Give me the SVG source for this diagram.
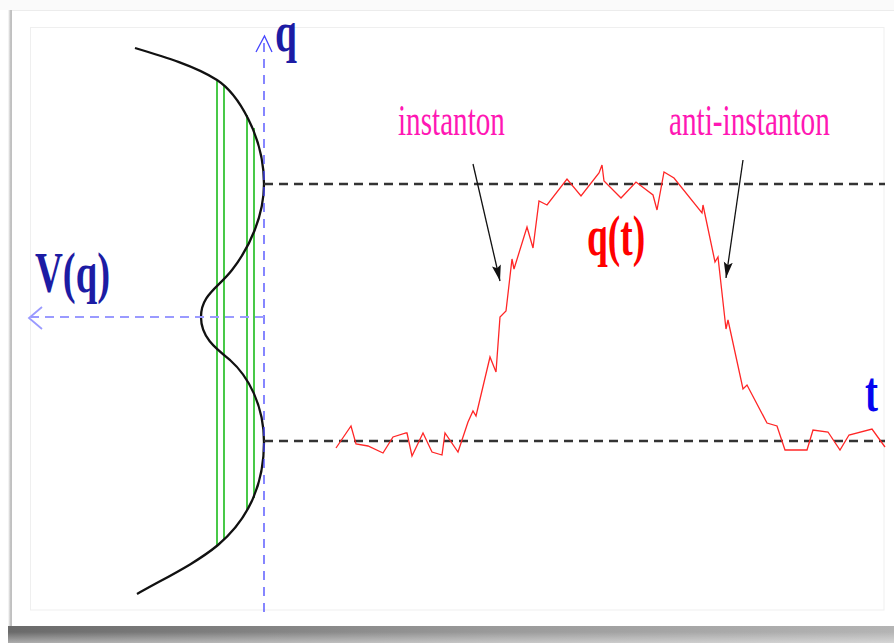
<svg xmlns="http://www.w3.org/2000/svg" width="894" height="643" viewBox="0 0 894 643">
  <defs>
    <linearGradient id="shadowH" x1="0" y1="0" x2="1" y2="0">
      <stop offset="0" stop-color="#6a6a6a"/>
      <stop offset="0.55" stop-color="#9a9a9a"/>
      <stop offset="1" stop-color="#b4b4b4"/>
    </linearGradient>
    <linearGradient id="shadowV" x1="0" y1="0" x2="0" y2="1">
      <stop offset="0" stop-color="#ffffff" stop-opacity="0"/>
      <stop offset="0.35" stop-color="#ffffff" stop-opacity="0"/>
      <stop offset="1" stop-color="#ffffff" stop-opacity="0.45"/>
    </linearGradient>
    <linearGradient id="shadowL" x1="0" y1="0" x2="1" y2="0">
      <stop offset="0" stop-color="#ffffff"/>
      <stop offset="0.6" stop-color="#b8b8b8"/>
      <stop offset="1" stop-color="#d8d8d8"/>
    </linearGradient>
    <marker id="arrowBlack" markerUnits="userSpaceOnUse" markerWidth="18" markerHeight="10" refX="16" refY="4.5" orient="auto">
      <path d="M0,0 L16,4.5 L0,9 L3,4.5 Z" fill="#111"/>
    </marker>
  </defs>
  <style>
    .dash-black { fill: none; stroke: #333; stroke-width: 2.6; stroke-dasharray: 9 6; }
    .axis-v { fill: none; stroke: #4545ff; stroke-width: 1.3; stroke-dasharray: 9 7; }
    .axis-h { fill: none; stroke: #9a9aff; stroke-width: 2; stroke-dasharray: 9 6; }
    .chev-v { fill: none; stroke: #4545ff; stroke-width: 1.3; }
    .chev-h { fill: none; stroke: #9a9aff; stroke-width: 1.8; }
    .green { stroke: #27c027; stroke-width: 1.7; }
    .bold { font-family: "Liberation Serif", "Times New Roman", serif; font-weight: bold; font-size: 58px; }
    .mag { font-family: "Liberation Serif", "Times New Roman", serif; font-size: 44px; fill: #ff17b4; }
    .arrow { fill: none; stroke: #111; stroke-width: 1.3; marker-end: url(#arrowBlack); }
  </style>

  <!-- frame -->
  <g id="frame">
    <rect x="0" y="0" width="894" height="643" fill="#ffffff"/>
    <rect x="0" y="0" width="894" height="10" fill="#fafafa"/>
    <rect x="8" y="10" width="5" height="616" fill="url(#shadowL)"/>
    <rect x="12" y="10" width="882" height="616" fill="#ffffff"/>
    <line x1="12" y1="10.5" x2="894" y2="10.5" stroke="#ececec" stroke-width="1"/>
    <rect x="8" y="626" width="886" height="17" fill="url(#shadowH)"/>
    <rect x="8" y="626" width="886" height="17" fill="url(#shadowV)"/>
    <rect x="30.5" y="27.5" width="853.5" height="582.5" fill="none" stroke="#efefef" stroke-width="1"/>
  </g>

  <!-- potential well -->
  <g id="potential">
    <g id="green-lines">
      <line class="green" x1="217" y1="81" x2="217" y2="546"/>
      <line class="green" x1="224" y1="85" x2="224" y2="540"/>
      <line class="green" x1="247" y1="115" x2="247" y2="510"/>
      <line class="green" x1="254" y1="128" x2="254" y2="498"/>
    </g>
    <path id="V-curve" d="M135,48 C165,57 195,66 217,80 C237,93 264,135 264,184 C264,215 250,247 232,270 C218,288 201,295 201,317 C201,337 215,348 230,360 C248,376 264,405 264,442 C264,490 245,522 218,545 C195,564 165,578 137,594" fill="none" stroke="#111" stroke-width="2.3"/>
  </g>

  <!-- reference levels -->
  <g id="levels">
    <line class="dash-black" x1="264" y1="184" x2="885" y2="184"/>
    <line class="dash-black" x1="264" y1="441" x2="885" y2="441"/>
  </g>

  <!-- axes -->
  <g id="q-axis">
    <line class="axis-v" x1="264" y1="612" x2="264" y2="37"/>
    <polyline class="chev-v" points="256,52 264.5,36 272,52"/>
    <text class="bold" transform="translate(275,51) scale(0.68,1)" fill="#1c1ca4">q</text>
  </g>
  <g id="V-axis">
    <line class="axis-h" x1="264" y1="317" x2="31" y2="317"/>
    <polyline class="chev-h" points="42,307 29,318 42,329"/>
    <text class="bold" transform="translate(35,292) scale(0.665,1)" fill="#1c1ca4">V(q)</text>
  </g>
  <g id="t-label">
    <text class="bold" transform="translate(865,411) scale(0.67,1)" fill="#0505f0">t</text>
  </g>

  <!-- trajectory -->
  <g id="trajectory">
    <path d="M336,448 L351,426 L356,444 L368,446 L383,453 L393,437 L406,433 L407,433 L412,456 L423,433 L432,452 L442,455 L445,433 L458,452 L468,422 L473,411 L476,416 L490,357 L496,372 L500,317 L506,311 L512,259 L514,269 L527,227 L533,248 L539,201 L547,205 L567,179 L581,196 L599,173 L602,165 L604,181 L621,198 L636,182 L653,195 L657,210 L664,172 L674,178 L702,213 L703,205 L715,262 L718,257 L726,329 L728,320 L743,389 L747,385 L767,423 L777,426 L785,450 L807,450 L813,430 L828,432 L840,450 L849,435 L872,429 L885,447" fill="none" stroke="#ff2626" stroke-width="1.3" stroke-linejoin="miter"/>
    <text class="bold" transform="translate(587,255) scale(0.645,1)" fill="#ff0000">q(t)</text>
  </g>

  <g id="instanton-label">
    <text class="mag" transform="translate(398,135) scale(0.663,1)">instanton</text>
  </g>
  <g id="anti-instanton-label">
    <text class="mag" transform="translate(669,135) scale(0.665,1)">anti-instanton</text>
  </g>

  <g id="connectors">
    <line class="arrow" x1="473" y1="164" x2="500" y2="281"/>
    <line class="arrow" x1="743" y1="160" x2="726" y2="278"/>
  </g>
</svg>
